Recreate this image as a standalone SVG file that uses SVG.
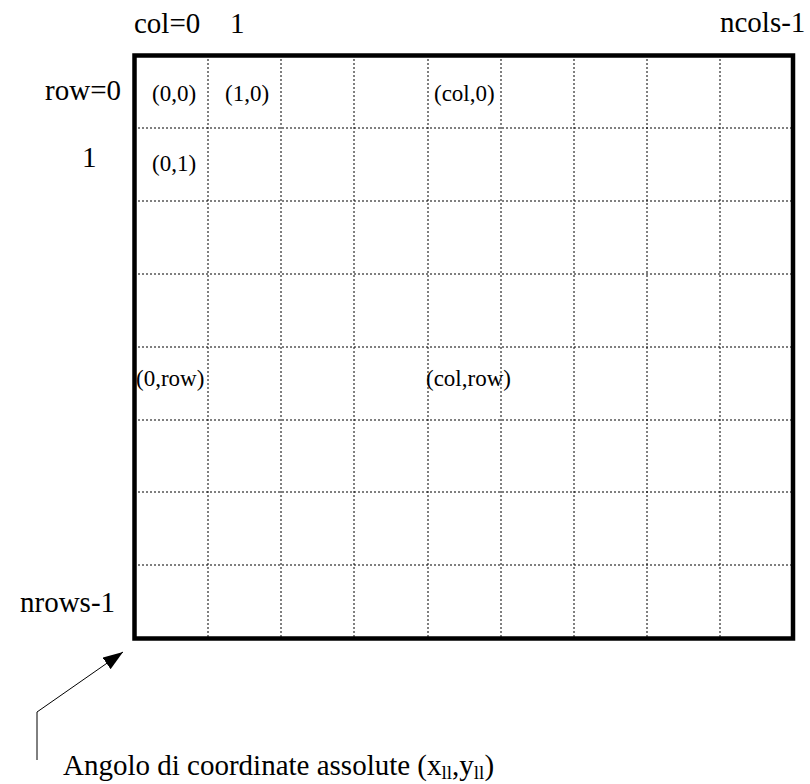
<svg xmlns="http://www.w3.org/2000/svg" width="810" height="784" viewBox="0 0 810 784">
<style>
text { font-family: "Liberation Serif", "Times New Roman", serif; fill: #000; }
.lbl { font-size: 29px; }
.cell { font-size: 23px; }
.grid { stroke: #000; stroke-width: 1; stroke-dasharray: 2 2; fill: none; }
.frame { stroke: #000; stroke-width: 4.5; fill: none; }
.conn { stroke: #000; stroke-width: 1; fill: none; }
</style>
<defs>
<marker id="ah" markerWidth="20" markerHeight="14" refX="20" refY="7" orient="auto" markerUnits="userSpaceOnUse" viewBox="0 0 20 14">
<path d="M0,0 L20,7 L0,14 z" fill="#000"/>
</marker>
</defs>
<rect width="810" height="784" fill="#fff"/>
<g id="grid">
<path class="grid" d="M208,55V638 M281,55V638 M354,55V638 M428,55V638 M501,55V638 M574,55V638 M647,55V638 M720,55V638"/>
<path class="grid" d="M134,128H793 M134,201H793 M134,274H793 M134,347H793 M134,420H793 M134,492H793 M134,565H793"/>
<rect id="frame" class="frame" x="134.5" y="55.5" width="658.5" height="583"/>
</g>
<g id="axis-labels">
<text class="lbl" x="134" y="33">col=0</text>
<text class="lbl" x="230" y="33">1</text>
<text class="lbl" x="720" y="32">ncols-1</text>
<text class="lbl" x="121" y="100" text-anchor="end">row=0</text>
<text class="lbl" x="82" y="167">1</text>
<text class="lbl" x="20" y="612">nrows-1</text>
</g>
<g id="cells">
<text class="cell" x="152" y="101">(0,0)</text>
<text class="cell" x="225" y="101">(1,0)</text>
<text class="cell" x="434" y="101">(col,0)</text>
<text class="cell" x="152" y="171">(0,1)</text>
<text class="cell" x="136" y="386">(0,row)</text>
<text class="cell" x="426" y="386">(col,row)</text>
</g>
<g id="connectors">
<path class="conn" d="M37,760 V712 L123,652" marker-end="url(#ah)"/>
</g>
<g id="caption">
<text class="lbl" x="63" y="775">Angolo di coordinate assolute (x<tspan font-size="19" dy="4">ll</tspan><tspan dy="-4">,y</tspan><tspan font-size="19" dy="4">ll</tspan><tspan dy="-4">)</tspan></text>
</g>
</svg>
